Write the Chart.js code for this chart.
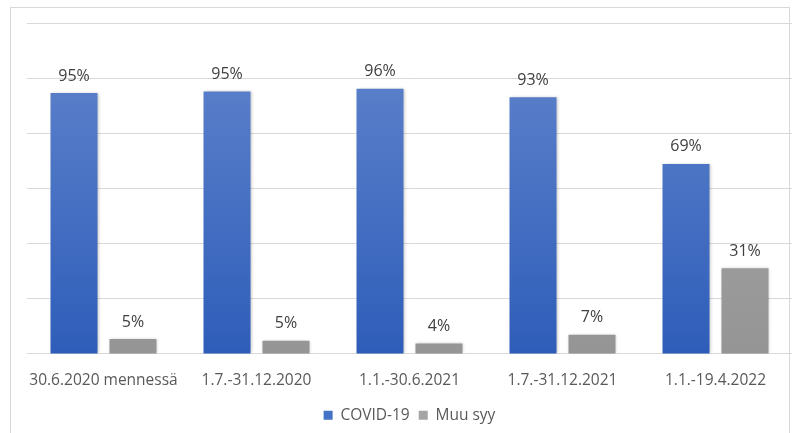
<!DOCTYPE html>
<html>
<head>
<meta charset="utf-8">
<script src="https://cdn.jsdelivr.net/npm/chart.js@4"></script>
<style>
  html, body { margin: 0; padding: 0; background: #fff; }
  #wrap { position: relative; width: 792px; height: 433px; }
  #frame {
    position: absolute; left: 10px; top: 7px; width: 780px; height: 440px;
    border: 1px solid #d9d9d9; box-sizing: border-box;
  }
  canvas { position: absolute; left: 0; top: 0; }
</style>
</head>
<body>
<div id="wrap">
  <div id="frame"></div>
  <canvas id="chart" width="792" height="433"></canvas>
</div>
<script>
// ============================================================
// 数据
// ============================================================

const categories = ['30.6.2020 mennessä', '1.7.-31.12.2020', '1.1.-30.6.2021', '1.7.-31.12.2021', '1.1.-19.4.2022'];
const covidValues = [0.946, 0.952, 0.962, 0.931, 0.689];
const otherValues = [0.054, 0.048, 0.038, 0.069, 0.311];
const seriesNames = ['COVID-19', 'Muu syy'];

const FONT = '"Open Sans", "Liberation Sans", sans-serif';

/**
 * 竖向渐变
 */
function verticalGradient(ctx, top, bottom) {
  const chart = ctx.chart;
  const area = chart.chartArea;
  if (!area) return bottom;
  const g = chart.ctx.createLinearGradient(0, area.bottom, 0, area.top);
  g.addColorStop(0, bottom);
  g.addColorStop(1, top);
  return g;
}

// 柱顶百分比标签
const valueLabels = {
  id: 'valueLabels',
  afterDatasetsDraw(chart) {
    const c = chart.ctx;
    c.save();
    c.font = '16px ' + FONT;
    c.fillStyle = '#404040';
    c.textAlign = 'center';
    c.textBaseline = 'middle';
    chart.data.datasets.forEach((ds, i) => {
      chart.getDatasetMeta(i).data.forEach((bar, j) => {
        const txt = Math.round(ds.data[j] * 100) + '%';
        c.fillText(txt, bar.x, bar.y - 17);
      });
    });
    c.restore();
  }
};

// 柱子阴影
const barShadow = {
  id: 'barShadow',
  beforeDatasetsDraw(chart) {
    const c = chart.ctx;
    c.save();
    c.shadowColor = 'rgba(0,0,0,0.25)';
    c.shadowBlur = 3;
    c.shadowOffsetX = 1;
    c.shadowOffsetY = 0;
  },
  afterDatasetsDraw(chart) {
    chart.ctx.restore();
  }
};

new Chart(document.getElementById('chart'), {
  type: 'bar',
  data: {
    labels: categories,
    datasets: [
      {
        label: seriesNames[0],
        data: covidValues,
        backgroundColor: ctx => verticalGradient(ctx, '#6386cd', '#2e5db9'),
        borderWidth: 0
      },
      {
        label: seriesNames[1],
        data: otherValues,
        backgroundColor: ctx => verticalGradient(ctx, '#aaaaaa', '#959595'),
        borderWidth: 0
      }
    ]
  },
  options: {
    responsive: false,
    animation: false,
    categoryPercentage: 0.771,
    barPercentage: 0.797,
    layout: { padding: { left: 27, right: 0, top: 23, bottom: 0 } },
    scales: {
      x: {
        grid: { display: false },
        border: { color: '#d9d9d9', width: 1 },
        ticks: {
          color: '#595959',
          font: { family: FONT, size: 15.5 },
          padding: 9,
          maxRotation: 0,
          minRotation: 0,
          autoSkip: false
        }
      },
      y: {
        min: 0,
        max: 1.2,
        ticks: { display: false, stepSize: 0.2 },
        grid: { color: '#d9d9d9', drawTicks: false },
        border: { display: false }
      }
    },
    plugins: {
      legend: {
        position: 'bottom',
        labels: {
          color: '#595959',
          font: { family: FONT, size: 15.5 },
          boxWidth: 9,
          boxHeight: 9,
          padding: 9,
          generateLabels(chart) {
            const cols = ['#4472c4', '#a5a5a5'];
            return chart.data.datasets.map((ds, i) => ({
              text: ds.label,
              fillStyle: cols[i],
              strokeStyle: cols[i],
              lineWidth: 0,
              datasetIndex: i,
              fontColor: '#595959'
            }));
          }
        }
      },
      tooltip: { enabled: false }
    }
  },
  plugins: [barShadow, valueLabels]
});
</script>
</body>
</html>
